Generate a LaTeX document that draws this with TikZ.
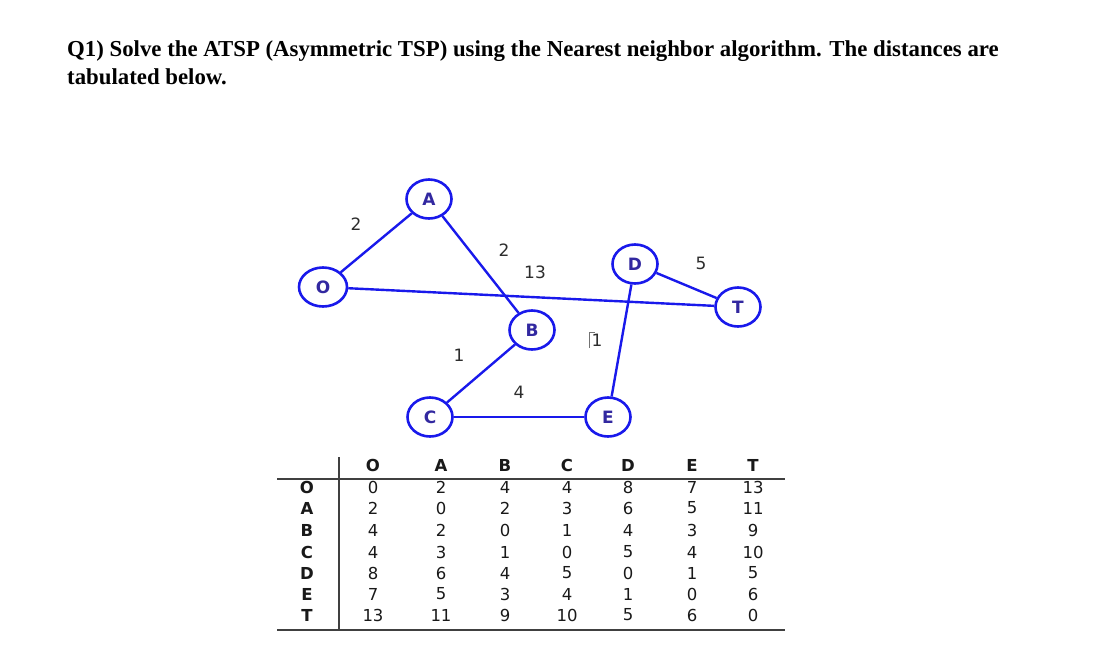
\documentclass[tikz,border=0pt]{standalone}
\usepackage{fontspec}
\setmainfont{Liberation Serif}
\newfontfamily\dvs{DejaVu Sans}
\usetikzlibrary{shapes.geometric}
\definecolor{edgeblue}{RGB}{25,25,235}
\definecolor{lblblue}{RGB}{50,40,160}
\definecolor{numgray}{RGB}{45,45,45}
\tikzset{
  vert/.style={ellipse, draw=edgeblue, line width=2.6pt, minimum width=45pt, minimum height=39pt, inner sep=0pt, text=lblblue, font=\dvs\fontsize{17}{17}\selectfont\bfseries},
  edge/.style={draw=edgeblue, line width=2.4pt},
  wlabel/.style={text=numgray, font=\dvs\fontsize{17}{17}\selectfont},
  thead/.style={font=\dvs\fontsize{16.5}{16.5}\selectfont\bfseries, text=black!90},
  tcell/.style={font=\dvs\fontsize{16.5}{16.5}\selectfont, text=black!90},
  rule/.style={draw=black!75, line width=1.4pt},
  title/.style={anchor=base west, inner sep=0pt, font=\fontsize{22.8}{27}\selectfont\bfseries}
}
\begin{document}
\begin{tikzpicture}[x=1pt,y=-1pt]
\useasboundingbox (0,0) rectangle (1096,665);
\node[title] (t1) at (67,56) {Q1) Solve the ATSP (Asymmetric TSP) using the Nearest neighbor algorithm. The distances are};
\node[title] (t2) at (67,84) {tabulated below.};
% graph
\node[vert] (A) at (429,199) {A};
\node[vert, minimum width=48pt] (O) at (323,287) {O};
\node[vert] (D) at (635,264) {D};
\node[vert] (T) at (738,307) {T};
\node[vert] (B) at (532,330) {B};
\node[vert] (C) at (430,417) {C};
\node[vert] (E) at (608,417) {E};
\draw[edge] (O) -- (A);
\draw[edge] (A) -- (B);
\draw[edge] (O) -- (T);
\draw[edge] (D) -- (T);
\draw[edge] (D) -- (E);
\draw[edge] (B) -- (C);
\draw[edge] (C) -- (E);
\node[wlabel] (lOA) at (356,224) {2};
\node[wlabel] (lAB) at (504,250) {2};
\node[wlabel] (lOT) at (535,272) {13};
\node[wlabel] (lDE) at (597,340) {1};
\draw[draw=black!55, line width=1pt] (589.5,348) -- (589.5,332) -- (595,332);
\node[wlabel] (lDT) at (701,263) {5};
\node[wlabel] (lBC) at (459,355) {1};
\node[wlabel] (lCE) at (519,392) {4};
% table
\draw[rule] (339,457) -- (339,630);
\draw[rule] (277,479) -- (785,479);
\draw[rule] (277,630) -- (785,630);
\foreach \n/\x in {O/373,A/441,B/505,C/567,D/628,E/692,T/753}
  \node[thead] (h\n) at (\x,465) {\n};
\foreach \n/\y in {O/487,A/508,B/530,C/552,D/573,E/594,T/615}
  \node[thead] (r\n) at (307,\y) {\n};
\foreach \y/\row in {487/{0,2,4,4,8,7,13},508/{2,0,2,3,6,5,11},530/{4,2,0,1,4,3,9},552/{4,3,1,0,5,4,10},573/{8,6,4,5,0,1,5},594/{7,5,3,4,1,0,6},615/{13,11,9,10,5,6,0}}{
  \foreach \v [count=\i] in \row {
    \pgfmathsetmacro\xx{{373,441,505,567,628,692,753}[\i-1]}
    \node[tcell] (c\i-\y) at (\xx,\y) {\v};
  }
}
\end{tikzpicture}
\end{document}
